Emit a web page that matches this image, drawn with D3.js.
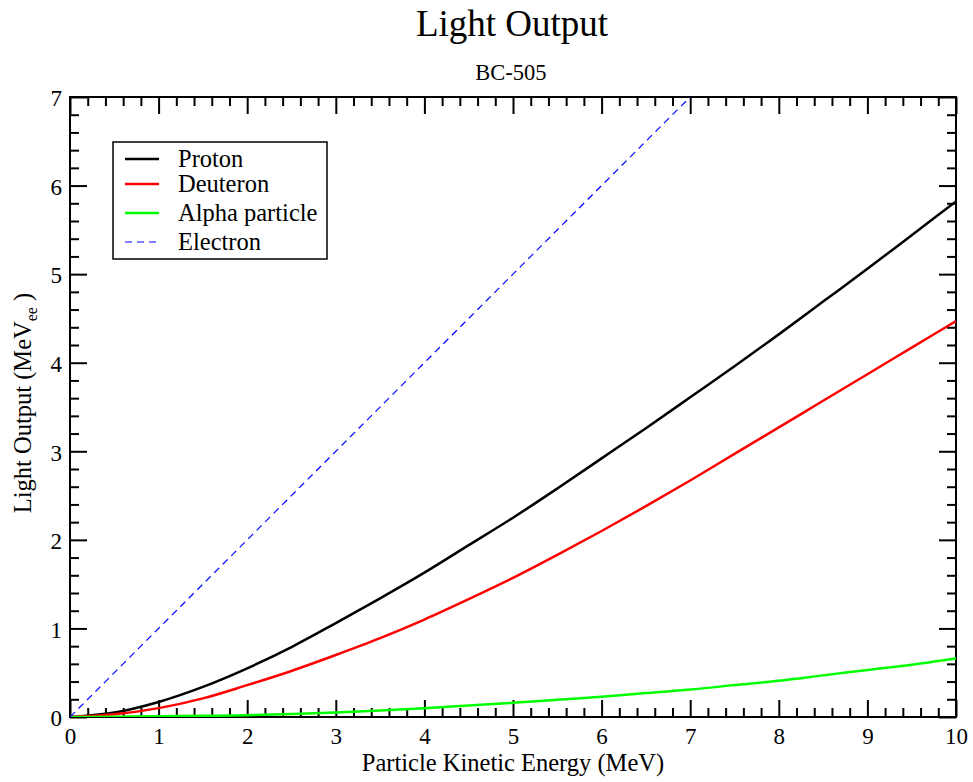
<!DOCTYPE html>
<html>
<head>
<meta charset="utf-8">
<script src="https://cdn.jsdelivr.net/npm/d3@7"></script>
<style>
  body { margin: 0; background: #fff; }
  svg text { font-family: "Liberation Serif", "Times New Roman", serif; fill: #000; }
</style>
</head>
<body>
<div id="chart"></div>
<script>
// Energy grid (MeV) the curves were read at
const energy = [0, 0.5, 1, 1.5, 2, 2.5, 3, 3.5, 4, 4.5, 5, 5.5, 6, 6.5, 7, 7.5, 8, 8.5, 9, 9.5, 10];

// Light output (MeVee)
const proton   = [0, 0.05, 0.17, 0.34, 0.55, 0.79, 1.06, 1.34, 1.63, 1.94, 2.25, 2.58, 2.92, 3.26, 3.61, 3.96, 4.32, 4.69, 5.06, 5.44, 5.82];
const deuteron = [0, 0.03, 0.10, 0.21, 0.36, 0.52, 0.70, 0.89, 1.10, 1.33, 1.57, 1.83, 2.10, 2.38, 2.67, 2.97, 3.27, 3.57, 3.87, 4.17, 4.47];
const alpha    = [0, 0.003, 0.008, 0.013, 0.02, 0.033, 0.05, 0.073, 0.10, 0.13, 0.16, 0.195, 0.23, 0.27, 0.31, 0.36, 0.41, 0.47, 0.53, 0.59, 0.66];

// Electron: straight line, light output = energy
const electronE = [0, 10];
const electronL = [0, 10];

const seriesNames = ["Proton", "Deuteron", "Alpha particle", "Electron"];
const seriesColors = ["#000000", "#ff0000", "#00ff00", "#0000ff"];

const xTicks = [0, 1, 2, 3, 4, 5, 6, 7, 8, 9, 10];
const yTicks = [0, 1, 2, 3, 4, 5, 6, 7];

const width = 973, height = 782;
const margin = { left: 70, right: 17, top: 97, bottom: 65 };
const plotW = width - margin.left - margin.right;
const plotH = height - margin.top - margin.bottom;

const svg = d3.select("#chart").append("svg")
  .attr("width", width)
  .attr("height", height);

const x = d3.scaleLinear().domain([0, 10]).range([0, plotW]);
const y = d3.scaleLinear().domain([0, 7]).range([plotH, 0]);

const g = svg.append("g")
  .attr("transform", `translate(${margin.left},${margin.top})`);

g.append("clipPath").attr("id", "clip")
  .append("rect").attr("width", plotW).attr("height", plotH);

// minor tick values
const xMinor = d3.range(0, 10.001, 0.2).filter(v => Math.abs(v - Math.round(v)) > 1e-6);
const yMinor = d3.range(0, 7.001, 0.2).filter(v => Math.abs(v - Math.round(v)) > 1e-6);

function styleAxis(sel) {
  sel.select(".domain").remove();
  sel.selectAll("line").attr("stroke", "#000").attr("stroke-width", 2);
  sel.selectAll("text").style("font-size", "23px");
}

// Bottom
g.append("g").attr("transform", `translate(0,${plotH})`)
  .call(d3.axisBottom(x).tickValues(xTicks).tickSizeInner(-17).tickSizeOuter(0).tickPadding(11).tickFormat(d3.format("d")))
  .call(styleAxis);
g.append("g").attr("transform", `translate(0,${plotH})`)
  .call(d3.axisBottom(x).tickValues(xMinor).tickSizeInner(-9).tickSizeOuter(0).tickFormat(""))
  .call(styleAxis);

// Top
g.append("g")
  .call(d3.axisTop(x).tickValues(xTicks).tickSizeInner(-17).tickSizeOuter(0).tickFormat(""))
  .call(styleAxis);
g.append("g")
  .call(d3.axisTop(x).tickValues(xMinor).tickSizeInner(-9).tickSizeOuter(0).tickFormat(""))
  .call(styleAxis);

// Left
const leftAxis = g.append("g")
  .call(d3.axisLeft(y).tickValues(yTicks).tickSizeInner(-17).tickSizeOuter(0).tickPadding(8).tickFormat(d3.format("d")))
  .call(styleAxis);
leftAxis.selectAll("text").attr("dy", "0.38em");
g.append("g")
  .call(d3.axisLeft(y).tickValues(yMinor).tickSizeInner(-9).tickSizeOuter(0).tickFormat(""))
  .call(styleAxis);

// Right
g.append("g").attr("transform", `translate(${plotW},0)`)
  .call(d3.axisRight(y).tickValues(yTicks).tickSizeInner(-17).tickSizeOuter(0).tickFormat(""))
  .call(styleAxis);
g.append("g").attr("transform", `translate(${plotW},0)`)
  .call(d3.axisRight(y).tickValues(yMinor).tickSizeInner(-9).tickSizeOuter(0).tickFormat(""))
  .call(styleAxis);

// Frame
g.append("rect")
  .attr("width", plotW).attr("height", plotH)
  .attr("fill", "none").attr("stroke", "#000").attr("stroke-width", 2);

// Curves
const line = d3.line().x(d => x(d[0])).y(d => y(d[1])).curve(d3.curveMonotoneX);
const plots = g.append("g").attr("clip-path", "url(#clip)");

const curves = [proton, deuteron, alpha];
curves.forEach((vals, i) => {
  plots.append("path")
    .datum(energy.map((e, j) => [e, vals[j]]))
    .attr("d", line)
    .attr("fill", "none")
    .attr("stroke", seriesColors[i])
    .attr("stroke-width", 2.5);
});

plots.append("path")
  .datum(electronE.map((e, j) => [e, electronL[j]]))
  .attr("d", d3.line().x(d => x(d[0])).y(d => y(d[1])))
  .attr("fill", "none")
  .attr("stroke", seriesColors[3])
  .attr("stroke-width", 1.2)
  .attr("stroke-dasharray", "7,5");

// Legend
const legend = svg.append("g").attr("transform", "translate(113,142)");
legend.append("rect")
  .attr("width", 214).attr("height", 117)
  .attr("fill", "#fff").attr("stroke", "#000").attr("stroke-width", 1.5);

const rowY = [17, 42, 71, 100];
seriesNames.forEach((name, i) => {
  const row = legend.append("g").attr("transform", `translate(0,${rowY[i]})`);
  row.append("line")
    .attr("x1", 12).attr("x2", 46)
    .attr("stroke", seriesColors[i])
    .attr("stroke-width", i === 3 ? 1.2 : 2.5)
    .attr("stroke-dasharray", i === 3 ? "7,5" : null);
  row.append("text")
    .attr("x", 65).attr("y", 8)
    .style("font-size", "24.5px")
    .text(name);
});

// Titles
svg.append("text")
  .attr("x", 512).attr("y", 36)
  .attr("text-anchor", "middle")
  .style("font-size", "37px")
  .text("Light Output");

svg.append("text")
  .attr("x", 511).attr("y", 80)
  .attr("text-anchor", "middle")
  .style("font-size", "22.5px")
  .text("BC-505");

// Axis labels
svg.append("text")
  .attr("x", margin.left + plotW / 2).attr("y", 771)
  .attr("text-anchor", "middle")
  .style("font-size", "24.5px")
  .text("Particle Kinetic Energy (MeV)");

const yLabel = svg.append("text")
  .attr("transform", `translate(31,${margin.top + plotH / 2 - 4}) rotate(-90)`)
  .attr("text-anchor", "middle")
  .style("font-size", "24.5px");
yLabel.append("tspan").text("Light Output (MeV");
yLabel.append("tspan").attr("dy", 6).style("font-size", "16px").text("ee");
yLabel.append("tspan").attr("dy", -6).text(" )");
</script>
</body>
</html>
